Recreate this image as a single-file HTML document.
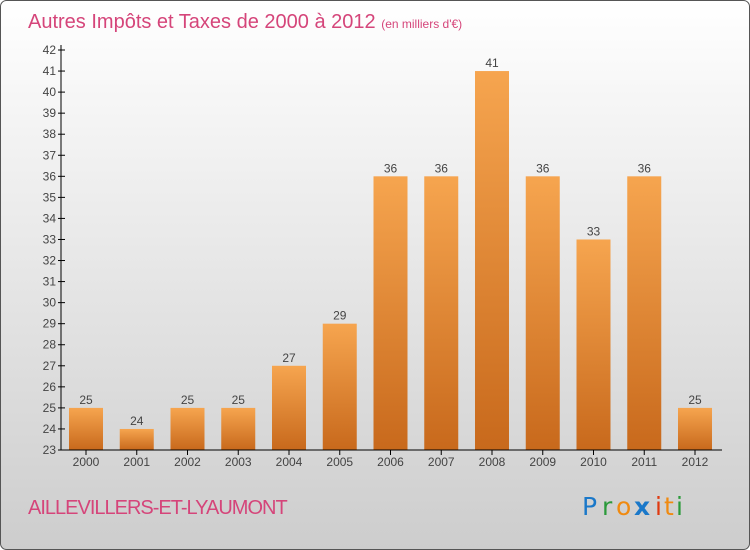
<!DOCTYPE html>
<html><head><meta charset="utf-8"><style>
body{margin:0;}
#c{width:750px;height:550px;position:relative;overflow:hidden;}
</style></head><body>
<div id="c">
<svg id="s" width="750" height="550" xmlns="http://www.w3.org/2000/svg" font-family="Liberation Sans, sans-serif">
<defs>
<linearGradient id="bg" x1="0" y1="0" x2="0" y2="1"><stop offset="0" stop-color="#ffffff"/><stop offset="1" stop-color="#cdcdcd"/></linearGradient>
<linearGradient id="bar" x1="0" y1="0" x2="0" y2="1"><stop offset="0" stop-color="#f6a54f"/><stop offset="1" stop-color="#c8691c"/></linearGradient>
</defs>
<rect x="0.5" y="0.5" width="749" height="549" rx="6" fill="url(#bg)" stroke="#555"/>
<text x="28" y="28" font-size="20" fill="#d5457a">Autres Impôts et Taxes de 2000 à 2012 <tspan font-size="12">(en milliers d'€)</tspan></text>
<text x="28" y="514" font-size="20" fill="#d5457a" letter-spacing="-1">AILLEVILLERS-ET-LYAUMONT</text>
<g font-size="25" font-family="DejaVu Sans, sans-serif">
<text x="582" y="515" fill="#1a78c9">P</text><text x="602" y="515" fill="#2a9a3a">r</text><text x="616" y="515" fill="#f08a10">o</text><text x="634" y="515" fill="#1a78c9" font-weight="bold">x</text><text x="655" y="515" fill="#e03a10">i</text><text x="664" y="515" fill="#f08a10">t</text><text x="676" y="515" fill="#2a9a3a">i</text>
</g>
<g id="plot"></g>
</svg>
</div>
<script>
const years=["2000","2001","2002","2003","2004","2005","2006","2007","2008","2009","2010","2011","2012"];
const values=[25,24,25,25,27,29,36,36,41,36,33,36,25];
const yMin=23,yMax=42;
const ns="http://www.w3.org/2000/svg";
const g=document.getElementById('plot');
function y(v){return 450-(v-yMin)*(400/(yMax-yMin));}
function x(i){return 86+i*50.75;}
function mk(t,a){const e=document.createElementNS(ns,t);for(const k in a)e.setAttribute(k,a[k]);g.appendChild(e);return e;}
for(let v=yMin;v<=yMax;v++){
 const t=mk('line',{x1:58,x2:65,y1:y(v),y2:y(v),stroke:'#000'});
 
 
 const l=mk('text',{x:56,y:y(v)+4,'font-size':12,'text-anchor':'end',fill:'#444'});l.textContent=v;
 
 
}
years.forEach((yr,i)=>{
 const b=mk('rect',{x:x(i)-17,y:y(values[i]),width:34,height:450-y(values[i]),fill:'url(#bar)'});
 
 
 const v=mk('text',{x:x(i),y:y(values[i])-4,'font-size':12,'text-anchor':'middle',fill:'#444'});v.textContent=values[i];
 
 
 const tk=mk('line',{x1:x(i),x2:x(i),y1:450,y2:455,stroke:'#000'});
 
 
 const l=mk('text',{x:x(i),y:466,'font-size':12,'text-anchor':'middle',fill:'#444'});l.textContent=yr;
 
 
});
const ax=mk('line',{x1:61,x2:61,y1:45,y2:450,stroke:'#000'});


const bx=mk('line',{x1:61,x2:722,y1:450,y2:450,stroke:'#000'});


</script>
</body></html>
